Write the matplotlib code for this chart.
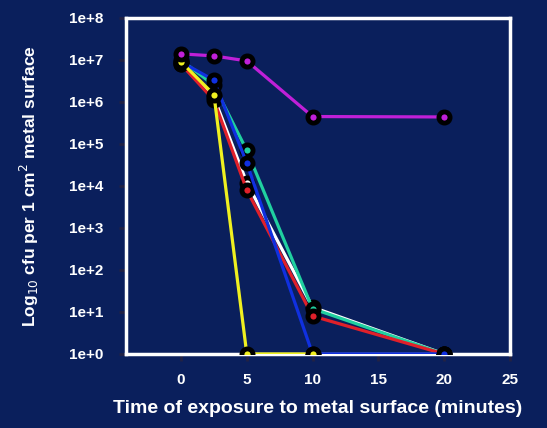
import numpy as np
import matplotlib.pyplot as plt

plt.rcParams['font.family'] = ['Liberation Sans', 'DejaVu Sans']

# exposure times (minutes)
t_purple = [0, 2.5, 5, 10, 20]
purple = [1.4e7, 1.25e7, 9.5e6, 4.5e5, 4.4e5]

t_yellow = [0, 2.5, 5, 10]
yellow = [9e6, 1.5e6, 1, 1]

t_all = [0, 2.5, 5, 10, 20]
white = [8e6, 1.3e6, 1.2e4, 13, 1]
red = [8e6, 1.1e6, 8e3, 8, 1]
green = [1e7, 2.5e6, 7e4, 12, 1]
blue = [9e6, 3.3e6, 3.5e4, 1, 1]

bg = '#0a1f5c'
fig = plt.figure(figsize=(5.47, 4.28), dpi=100, facecolor=bg)
ax = fig.add_axes([0.230, 0.173, 0.702, 0.785])
ax.set_facecolor(bg)

def draw(x, y, col, z):
    y = np.array(y, dtype=float)
    err = np.where(y > 1, y * 0.35, 0)
    ax.errorbar(x, y, yerr=[err * 0.5, err], fmt='none', ecolor='black',
                elinewidth=2, capsize=3, zorder=z)
    ax.plot(x, y, '-', color=col, lw=2.3, zorder=z)
    ax.plot(x, y, 'o', mfc=col, mec='black', mew=3.5, ms=8, zorder=z + 0.5)

draw(t_all, white, 'white', 3)
draw(t_all, red, '#e0202a', 4)
draw(t_all, green, '#20d0a0', 3.5)
draw(t_all, blue, '#1030e0', 5)
draw(t_yellow, yellow, '#f0f020', 6)
draw(t_purple, purple, '#c020d8', 7)

ax.set_yscale('log')
ax.set_ylim(1, 1e8)
ax.set_xlim(-4.2, 25)
ax.set_xticks([0, 5, 10, 15, 20, 25])
ax.set_yticks([10.0 ** k for k in range(9)])
ax.set_yticklabels(['1e+%d' % k for k in range(9)])
ax.minorticks_off()
for s in ax.spines.values():
    s.set_color('white')
    s.set_linewidth(2.5)
ax.tick_params(axis='both', colors='#222244', labelcolor='white', length=5, width=2)
for lab in ax.get_xticklabels() + ax.get_yticklabels():
    lab.set_fontweight('bold')
    lab.set_fontsize(11)
ax.tick_params(axis='x', pad=9)
ax.tick_params(axis='y', pad=11)

ax.set_xlabel('Time of exposure to metal surface (minutes)', color='white',
              fontsize=14, fontweight='bold', labelpad=9)
ax.set_ylabel(r'Log$_{10}$ cfu per 1 cm$^{2}$ metal surface', color='white',
              fontsize=12.5, fontweight='bold', labelpad=20)

fig.savefig('out.png', dpi=100, facecolor=bg)
